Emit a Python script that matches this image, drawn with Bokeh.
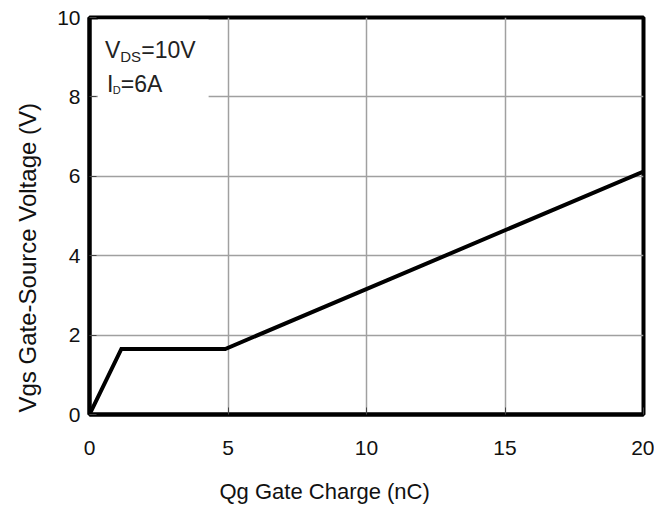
from bokeh.plotting import figure
from bokeh.models import FixedTicker, Title
from bokeh.core.properties import value
from bokeh.embed import file_html
from bokeh.resources import INLINE

# Gate charge curve
qg_nc = [0.0, 1.15, 4.9, 20.0]
vgs_v = [0.0, 1.65, 1.65, 6.12]

x_ticks = [0, 5, 10, 15, 20]
y_ticks = [0, 2, 4, 6, 8, 10]

x_title = "Qg Gate Charge (nC)"
y_title = "Vgs Gate-Source Voltage (V)"

FONT = "Liberation Sans"

p = figure(width=654, height=523, x_range=(0, 20), y_range=(0, 10),
           output_backend="svg", toolbar_location=None,
           min_border_left=89, min_border_top=17, min_border_right=11,
           min_border_bottom=109)
p.background_fill_color = "white"
p.border_fill_color = "white"
p.outline_line_color = "black"
p.outline_line_width = 4

for ax, ticks in ((p.xaxis, x_ticks), (p.yaxis, y_ticks)):
    ax.ticker = FixedTicker(ticks=ticks)
    ax.axis_line_color = "black"
    ax.axis_line_width = 4
    ax.major_tick_in = 7
    ax.major_tick_out = 0
    ax.major_tick_line_color = "#444444"
    ax.major_tick_line_width = 1
    ax.minor_tick_line_color = None
    ax.major_label_text_font = FONT
    ax.major_label_text_font_size = "21px"
    ax.major_label_text_color = "#111111"

p.xaxis.major_label_standoff = 26
p.yaxis.major_label_standoff = 9

p.grid.grid_line_color = "#a0a0a0"
p.grid.grid_line_width = 1.5

# white box behind the conditions text
p.quad(left=[0.3], right=[4.3], bottom=[7.75], top=[9.95],
       fill_color="white", line_color=None)

p.line(qg_nc, vgs_v, line_width=4, line_color="black", line_join="miter")

txt = dict(text_font=value(FONT), text_color="#222222", text_baseline="middle")
p.text(x=[0.56], y=[9.19], text=["V"], text_font_size="23px", **txt)
p.text(x=[1.11], y=[9.02], text=["DS"], text_font_size="15px", **txt)
p.text(x=[1.87], y=[9.19], text=["=10V"], text_font_size="23px", **txt)
p.text(x=[0.63], y=[8.33], text=["I"], text_font_size="23px", **txt)
p.text(x=[0.84], y=[8.17], text=["D"], text_font_size="11px", **txt)
p.text(x=[1.13], y=[8.33], text=["=6A"], text_font_size="23px", **txt)

p.add_layout(Title(text=x_title, align="left", offset=130,
                   vertical_align="bottom",
                   text_font=FONT, text_font_size="22px",
                   text_font_style="normal", text_color="#111111",
                   standoff=38), "below")
p.add_layout(Title(text=y_title, align="left", offset=2,
                   vertical_align="top",
                   text_font=FONT, text_font_size="24px",
                   text_font_style="normal", text_color="#111111",
                   standoff=24), "left")

open("out.html", "w").write(file_html(p, INLINE))
